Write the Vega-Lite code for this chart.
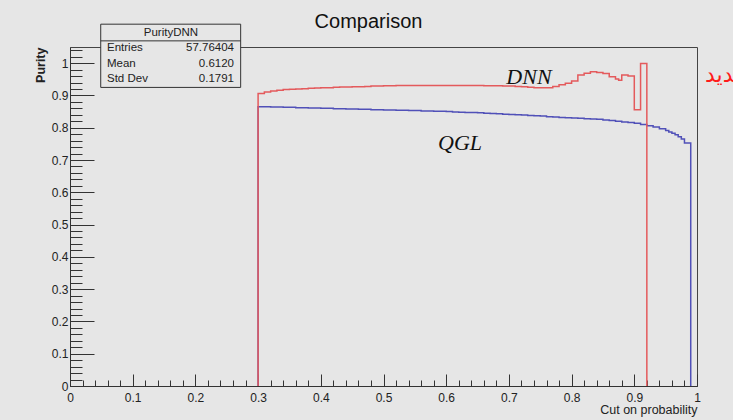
{
  "$schema": "https://vega.github.io/schema/vega-lite/v6.json",
  "width": 627,
  "height": 339,
  "autosize": {"type": "none"},
  "padding": {"left": 70, "top": 47, "right": 36, "bottom": 34},
  "background": "#e6e6e6",
  "config": {
    "view": {"stroke": "#444", "strokeWidth": 1, "fill": "#e6e6e6"},
    "font": "Liberation Sans",
    "axis": {"grid": false, "labelFlush": false, "labelOverlap": false}
  },
  "title": {
    "text": "Comparison",
    "frame": "group",
    "anchor": "middle",
    "dx": -15,
    "dy": 12,
    "fontSize": 20,
    "fontWeight": "normal",
    "font": "Liberation Sans",
    "color": "#111"
  },
  "datasets": {
    "curves": [
      {"series": "QGL", "cut": 0.30, "purity": 0},
      {"series": "QGL", "cut": 0.30, "purity": 0.865},
      {"series": "QGL", "cut": 0.31, "purity": 0.865},
      {"series": "QGL", "cut": 0.32, "purity": 0.864},
      {"series": "QGL", "cut": 0.33, "purity": 0.864},
      {"series": "QGL", "cut": 0.34, "purity": 0.863},
      {"series": "QGL", "cut": 0.35, "purity": 0.863},
      {"series": "QGL", "cut": 0.36, "purity": 0.862},
      {"series": "QGL", "cut": 0.37, "purity": 0.862},
      {"series": "QGL", "cut": 0.38, "purity": 0.861},
      {"series": "QGL", "cut": 0.39, "purity": 0.861},
      {"series": "QGL", "cut": 0.40, "purity": 0.860},
      {"series": "QGL", "cut": 0.41, "purity": 0.860},
      {"series": "QGL", "cut": 0.42, "purity": 0.859},
      {"series": "QGL", "cut": 0.43, "purity": 0.859},
      {"series": "QGL", "cut": 0.44, "purity": 0.858},
      {"series": "QGL", "cut": 0.45, "purity": 0.858},
      {"series": "QGL", "cut": 0.46, "purity": 0.857},
      {"series": "QGL", "cut": 0.47, "purity": 0.857},
      {"series": "QGL", "cut": 0.48, "purity": 0.856},
      {"series": "QGL", "cut": 0.49, "purity": 0.856},
      {"series": "QGL", "cut": 0.50, "purity": 0.855},
      {"series": "QGL", "cut": 0.51, "purity": 0.855},
      {"series": "QGL", "cut": 0.52, "purity": 0.854},
      {"series": "QGL", "cut": 0.53, "purity": 0.854},
      {"series": "QGL", "cut": 0.54, "purity": 0.853},
      {"series": "QGL", "cut": 0.55, "purity": 0.853},
      {"series": "QGL", "cut": 0.56, "purity": 0.852},
      {"series": "QGL", "cut": 0.57, "purity": 0.852},
      {"series": "QGL", "cut": 0.58, "purity": 0.851},
      {"series": "QGL", "cut": 0.59, "purity": 0.851},
      {"series": "QGL", "cut": 0.60, "purity": 0.850},
      {"series": "QGL", "cut": 0.61, "purity": 0.849},
      {"series": "QGL", "cut": 0.62, "purity": 0.848},
      {"series": "QGL", "cut": 0.63, "purity": 0.847},
      {"series": "QGL", "cut": 0.64, "purity": 0.847},
      {"series": "QGL", "cut": 0.65, "purity": 0.846},
      {"series": "QGL", "cut": 0.66, "purity": 0.845},
      {"series": "QGL", "cut": 0.67, "purity": 0.844},
      {"series": "QGL", "cut": 0.68, "purity": 0.843},
      {"series": "QGL", "cut": 0.69, "purity": 0.842},
      {"series": "QGL", "cut": 0.70, "purity": 0.841},
      {"series": "QGL", "cut": 0.71, "purity": 0.840},
      {"series": "QGL", "cut": 0.72, "purity": 0.839},
      {"series": "QGL", "cut": 0.73, "purity": 0.838},
      {"series": "QGL", "cut": 0.74, "purity": 0.837},
      {"series": "QGL", "cut": 0.75, "purity": 0.836},
      {"series": "QGL", "cut": 0.76, "purity": 0.834},
      {"series": "QGL", "cut": 0.77, "purity": 0.833},
      {"series": "QGL", "cut": 0.78, "purity": 0.832},
      {"series": "QGL", "cut": 0.79, "purity": 0.831},
      {"series": "QGL", "cut": 0.80, "purity": 0.830},
      {"series": "QGL", "cut": 0.81, "purity": 0.829},
      {"series": "QGL", "cut": 0.82, "purity": 0.828},
      {"series": "QGL", "cut": 0.83, "purity": 0.827},
      {"series": "QGL", "cut": 0.84, "purity": 0.826},
      {"series": "QGL", "cut": 0.85, "purity": 0.824},
      {"series": "QGL", "cut": 0.86, "purity": 0.822},
      {"series": "QGL", "cut": 0.87, "purity": 0.820},
      {"series": "QGL", "cut": 0.88, "purity": 0.818},
      {"series": "QGL", "cut": 0.89, "purity": 0.816},
      {"series": "QGL", "cut": 0.90, "purity": 0.814},
      {"series": "QGL", "cut": 0.91, "purity": 0.810},
      {"series": "QGL", "cut": 0.92, "purity": 0.806},
      {"series": "QGL", "cut": 0.93, "purity": 0.802},
      {"series": "QGL", "cut": 0.94, "purity": 0.797},
      {"series": "QGL", "cut": 0.95, "purity": 0.791},
      {"series": "QGL", "cut": 0.955, "purity": 0.787},
      {"series": "QGL", "cut": 0.96, "purity": 0.783},
      {"series": "QGL", "cut": 0.965, "purity": 0.778},
      {"series": "QGL", "cut": 0.97, "purity": 0.772},
      {"series": "QGL", "cut": 0.975, "purity": 0.765},
      {"series": "QGL", "cut": 0.98, "purity": 0.753},
      {"series": "QGL", "cut": 0.99, "purity": 0},
      {"series": "DNN", "cut": 0.30, "purity": 0},
      {"series": "DNN", "cut": 0.30, "purity": 0.906},
      {"series": "DNN", "cut": 0.31, "purity": 0.911},
      {"series": "DNN", "cut": 0.32, "purity": 0.914},
      {"series": "DNN", "cut": 0.33, "purity": 0.916},
      {"series": "DNN", "cut": 0.34, "purity": 0.918},
      {"series": "DNN", "cut": 0.35, "purity": 0.919},
      {"series": "DNN", "cut": 0.36, "purity": 0.920},
      {"series": "DNN", "cut": 0.37, "purity": 0.921},
      {"series": "DNN", "cut": 0.38, "purity": 0.922},
      {"series": "DNN", "cut": 0.39, "purity": 0.923},
      {"series": "DNN", "cut": 0.40, "purity": 0.924},
      {"series": "DNN", "cut": 0.41, "purity": 0.924},
      {"series": "DNN", "cut": 0.42, "purity": 0.925},
      {"series": "DNN", "cut": 0.43, "purity": 0.926},
      {"series": "DNN", "cut": 0.44, "purity": 0.926},
      {"series": "DNN", "cut": 0.45, "purity": 0.927},
      {"series": "DNN", "cut": 0.46, "purity": 0.927},
      {"series": "DNN", "cut": 0.47, "purity": 0.928},
      {"series": "DNN", "cut": 0.48, "purity": 0.929},
      {"series": "DNN", "cut": 0.49, "purity": 0.929},
      {"series": "DNN", "cut": 0.50, "purity": 0.930},
      {"series": "DNN", "cut": 0.51, "purity": 0.930},
      {"series": "DNN", "cut": 0.52, "purity": 0.931},
      {"series": "DNN", "cut": 0.53, "purity": 0.931},
      {"series": "DNN", "cut": 0.54, "purity": 0.931},
      {"series": "DNN", "cut": 0.55, "purity": 0.931},
      {"series": "DNN", "cut": 0.56, "purity": 0.931},
      {"series": "DNN", "cut": 0.57, "purity": 0.931},
      {"series": "DNN", "cut": 0.58, "purity": 0.931},
      {"series": "DNN", "cut": 0.59, "purity": 0.931},
      {"series": "DNN", "cut": 0.60, "purity": 0.931},
      {"series": "DNN", "cut": 0.61, "purity": 0.931},
      {"series": "DNN", "cut": 0.62, "purity": 0.931},
      {"series": "DNN", "cut": 0.63, "purity": 0.931},
      {"series": "DNN", "cut": 0.64, "purity": 0.931},
      {"series": "DNN", "cut": 0.65, "purity": 0.931},
      {"series": "DNN", "cut": 0.66, "purity": 0.930},
      {"series": "DNN", "cut": 0.67, "purity": 0.930},
      {"series": "DNN", "cut": 0.68, "purity": 0.930},
      {"series": "DNN", "cut": 0.69, "purity": 0.929},
      {"series": "DNN", "cut": 0.70, "purity": 0.929},
      {"series": "DNN", "cut": 0.71, "purity": 0.928},
      {"series": "DNN", "cut": 0.72, "purity": 0.927},
      {"series": "DNN", "cut": 0.73, "purity": 0.925},
      {"series": "DNN", "cut": 0.74, "purity": 0.924},
      {"series": "DNN", "cut": 0.75, "purity": 0.924},
      {"series": "DNN", "cut": 0.76, "purity": 0.924},
      {"series": "DNN", "cut": 0.77, "purity": 0.928},
      {"series": "DNN", "cut": 0.78, "purity": 0.933},
      {"series": "DNN", "cut": 0.79, "purity": 0.938},
      {"series": "DNN", "cut": 0.80, "purity": 0.945},
      {"series": "DNN", "cut": 0.81, "purity": 0.963},
      {"series": "DNN", "cut": 0.82, "purity": 0.969},
      {"series": "DNN", "cut": 0.83, "purity": 0.973},
      {"series": "DNN", "cut": 0.84, "purity": 0.971},
      {"series": "DNN", "cut": 0.85, "purity": 0.968},
      {"series": "DNN", "cut": 0.86, "purity": 0.958},
      {"series": "DNN", "cut": 0.87, "purity": 0.951},
      {"series": "DNN", "cut": 0.875, "purity": 0.947},
      {"series": "DNN", "cut": 0.88, "purity": 0.963},
      {"series": "DNN", "cut": 0.89, "purity": 0.960},
      {"series": "DNN", "cut": 0.90, "purity": 0.856},
      {"series": "DNN", "cut": 0.91, "purity": 0.999},
      {"series": "DNN", "cut": 0.92, "purity": 0}
    ],
    "stats": [
      {"stat": "Entries", "value": "57.76404"},
      {"stat": "Mean", "value": "0.6120"},
      {"stat": "Std Dev", "value": "0.1791"}
    ],
    "box": [{"name": "PurityDNN"}],
    "tags": [
      {"tag": "DNN", "cut": 0.732, "purity": 0.958},
      {"tag": "QGL", "cut": 0.622, "purity": 0.752}
    ],
    "note": [{"text": "جديد", "cut": 1.0128, "purity": 0.963}]
  },
  "layer": [
    {
      "data": {"name": "curves"},
      "mark": {"type": "point", "opacity": 0},
      "encoding": {
        "x": {
          "field": "cut", "type": "quantitative",
          "scale": {"domain": [0, 1], "nice": false, "zero": false},
          "axis": {
            "orient": "bottom",
            "values": [0.02, 0.04, 0.06, 0.08, 0.12, 0.14, 0.16, 0.18, 0.22, 0.24, 0.26, 0.28, 0.32, 0.34, 0.36, 0.38, 0.42, 0.44, 0.46, 0.48, 0.52, 0.54, 0.56, 0.58, 0.62, 0.64, 0.66, 0.68, 0.72, 0.74, 0.76, 0.78, 0.82, 0.84, 0.86, 0.88, 0.92, 0.94, 0.96, 0.98],
            "tickSize": -6, "tickColor": "#333", "labels": false, "domain": false, "title": null
          }
        },
        "y": {
          "field": "purity", "type": "quantitative",
          "scale": {"domain": [0, 1.05], "nice": false, "zero": false},
          "axis": {
            "orient": "left",
            "values": [0.02, 0.04, 0.06, 0.08, 0.12, 0.14, 0.16, 0.18, 0.22, 0.24, 0.26, 0.28, 0.32, 0.34, 0.36, 0.38, 0.42, 0.44, 0.46, 0.48, 0.52, 0.54, 0.56, 0.58, 0.62, 0.64, 0.66, 0.68, 0.72, 0.74, 0.76, 0.78, 0.82, 0.84, 0.86, 0.88, 0.92, 0.94, 0.96, 0.98, 1.02, 1.04],
            "tickSize": -12, "tickColor": "#333", "labels": false, "domain": false, "title": null
          }
        }
      }
    },
    {
      "data": {"name": "curves"},
      "mark": {"type": "line", "interpolate": "step-after", "strokeWidth": 1.5},
      "encoding": {
        "x": {
          "field": "cut", "type": "quantitative",
          "axis": {
            "orient": "bottom",
            "values": [0, 0.1, 0.2, 0.3, 0.4, 0.5, 0.6, 0.7, 0.8, 0.9, 1],
            "format": "~g",
            "tickSize": -12, "tickColor": "#333", "domainColor": "#333",
            "labelFontSize": 12, "labelColor": "#222", "labelPadding": 18,
            "title": "Cut on probability", "titleAnchor": "end",
            "titleFontSize": 12.5, "titleFontWeight": "normal", "titleColor": "#222", "titlePadding": 0
          }
        },
        "y": {
          "field": "purity", "type": "quantitative",
          "axis": {
            "orient": "left",
            "values": [0, 0.1, 0.2, 0.3, 0.4, 0.5, 0.6, 0.7, 0.8, 0.9, 1],
            "format": "~g",
            "tickSize": -24, "tickColor": "#333", "domainColor": "#333",
            "labelFontSize": 12, "labelColor": "#222", "labelPadding": 26,
            "title": "Purity", "titleAnchor": "end",
            "titleFontSize": 12.5, "titleFontWeight": "bold", "titleColor": "#222", "titlePadding": 4
          }
        },
        "color": {
          "field": "series", "type": "nominal",
          "scale": {"domain": ["QGL", "DNN"], "range": ["#5050b8", "#e45a5c"]},
          "legend": null
        }
      }
    },
    {
      "data": {"name": "tags"},
      "mark": {"type": "text", "font": "Liberation Serif", "fontStyle": "italic", "fontSize": 22, "color": "#111", "align": "center", "baseline": "middle"},
      "encoding": {
        "x": {"field": "cut", "type": "quantitative", "axis": null},
        "y": {"field": "purity", "type": "quantitative", "axis": null},
        "text": {"field": "tag"}
      }
    },
    {
      "data": {"name": "note"},
      "mark": {"type": "text", "font": "DejaVu Sans", "fontSize": 22, "color": "#ff1a1a", "align": "left", "baseline": "middle"},
      "encoding": {
        "x": {"field": "cut", "type": "quantitative", "axis": null},
        "y": {"field": "purity", "type": "quantitative", "axis": null},
        "text": {"field": "text"}
      }
    },
    {
      "data": {"name": "box"},
      "mark": {"type": "rect", "fill": "#e6e6e6", "stroke": "#333", "strokeWidth": 1},
      "encoding": {
        "x": {"datum": 0.049, "type": "quantitative", "axis": null},
        "x2": {"datum": 0.2722},
        "y": {"datum": 1.1207, "type": "quantitative", "axis": null},
        "y2": {"datum": 0.9248}
      }
    },
    {
      "data": {"name": "box"},
      "mark": {"type": "rule", "stroke": "#333", "strokeWidth": 1},
      "encoding": {
        "x": {"datum": 0.049, "type": "quantitative", "axis": null},
        "x2": {"datum": 0.2722},
        "y": {"datum": 1.069, "type": "quantitative", "axis": null}
      }
    },
    {
      "data": {"name": "box"},
      "mark": {"type": "text", "fontSize": 11.5, "color": "#222", "align": "center", "baseline": "middle"},
      "encoding": {
        "x": {"datum": 0.161, "type": "quantitative", "axis": null},
        "y": {"datum": 1.0929, "type": "quantitative", "axis": null},
        "text": {"field": "name"}
      }
    },
    {
      "data": {"name": "stats"},
      "mark": {"type": "text", "fontSize": 11.5, "color": "#222", "align": "left", "baseline": "middle"},
      "encoding": {
        "x": {"datum": 0.059, "type": "quantitative", "axis": null},
        "y": {"datum": 1.0455, "type": "quantitative", "axis": null},
        "yOffset": {"field": "stat", "type": "nominal", "scale": {"type": "point", "domain": ["Entries", "Mean", "Std Dev"], "range": [0, 30.7], "padding": 0}},
        "text": {"field": "stat"}
      }
    },
    {
      "data": {"name": "stats"},
      "mark": {"type": "text", "fontSize": 11.5, "color": "#222", "align": "right", "baseline": "middle"},
      "encoding": {
        "x": {"datum": 0.2616, "type": "quantitative", "axis": null},
        "y": {"datum": 1.0455, "type": "quantitative", "axis": null},
        "yOffset": {"field": "stat", "type": "nominal", "scale": {"type": "point", "domain": ["Entries", "Mean", "Std Dev"], "range": [0, 30.7], "padding": 0}},
        "text": {"field": "value"}
      }
    }
  ],
  "resolve": {"axis": {"x": "independent", "y": "independent"}}
}
